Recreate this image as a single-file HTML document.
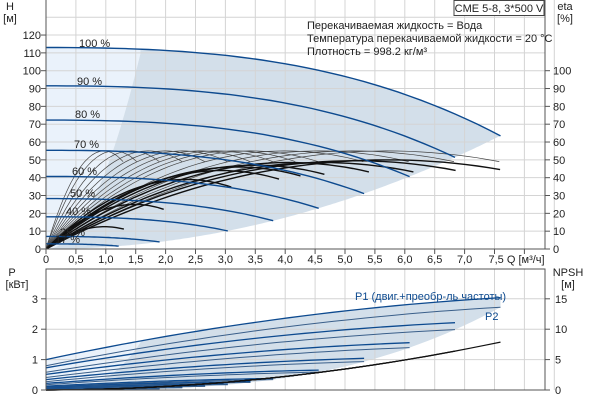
<!DOCTYPE html>
<html><head><meta charset="utf-8"><style>
html,body{margin:0;padding:0;background:#fff;width:600px;height:400px;overflow:hidden}
svg{display:block;font-family:"Liberation Sans",sans-serif;font-size:11px}
</style></head><body>
<svg id="s" width="600" height="400" xmlns="http://www.w3.org/2000/svg"></svg>
<script>
(function(){
var S=document.getElementById('s'),o='';
var X0=46,XS=59.8,i,q;
function X(q){return X0+q*XS}
function YH(h){return 249-h*1.783}
function YP(p){return 390-p*30.4}
function HF(q,s){return 113*s*s-0.25*q*q-0.08*q*q*q/s}
function path(pts,st,w,fill){var d='M'+pts.map(function(p){return p[0].toFixed(1)+','+p[1].toFixed(1)}).join('L');
 if(fill)return '<path d="'+d+'Z" fill="'+fill+'" stroke="none"/>';
 return '<path d="'+d+'" fill="none" stroke="'+st+'" stroke-width="'+w+'"/>';}
function T(x,y,t,a,fs,c){return '<text x="'+x+'" y="'+y+'" text-anchor="'+(a||'start')+'" font-size="'+(fs||11)+'" fill="'+(c||'#222')+'">'+t+'</text>';}
function P1(q,s){var u=q/s;return s*s*s*(1+0.42*u-0.02*u*u)}
function P2(q,s){var u=q/s;return s*s*s*(0.8+0.39*u-0.018*u*u)}
var light=[[X(0),YH(0)],[X(0),YH(113)]];for(i=0;i<=158;i++){q=i/100;light.push([X(q),YH(HF(q,1))]);}
for(i=158;i>=0;i--){q=i/100;light.push([X(q),YH(Math.min(44*q*q,HF(q,1)))]);}
o+=path(light,0,0,'#eaf2fb');
var dark=[];for(i=0;i<=158;i++){q=i/100;dark.push([X(q),YH(Math.min(44*q*q,HF(q,1)))]);}
for(i=158;i<=760;i+=3){q=i/100;dark.push([X(q),YH(HF(q,1))]);}
for(i=760;i>=0;i-=4){q=i/100;dark.push([X(q),YH(1.1*q*q)]);}
o+=path(dark,0,0,'#d3dfea');
var bd=[];for(i=0;i<=76;i++){q=i/10;bd.push([X(q),YP(P1(q,1))]);}
for(i=100;i>=12;i-=2){var s1=i/100;bd.push([X(7.6*s1),YP(P2(7.6*s1,s1))]);}
bd.push([X(0),YP(0)]);
o+=path(bd,0,0,'#d3dfea');
var bli=[[X(0),YP(0)],[X(0),YP(1)]];for(i=0;i<=16;i++){q=i/10;bli.push([X(q),YP(P1(q,1))]);}
for(i=100;i>=10;i-=5){var s2=i/100;bli.push([X(1.6*s2),YP(P1(1.6*s2,s2))]);}
bli.push([X(0.05),YP(0)]);
o+=path(bli,0,0,'#eaf2fb');
for(i=0;i<=17;i++){var x=X(i*0.5);o+='<line x1="'+x+'" y1="0" x2="'+x+'" y2="249" stroke="#d4d4d4"/>';o+='<line x1="'+x+'" y1="269" x2="'+x+'" y2="390" stroke="#d4d4d4"/>';}
for(i=0;i<=13;i++){var y=YH(i*10);if(y<0)continue;o+='<line x1="46" y1="'+y+'" x2="545" y2="'+y+'" stroke="#d4d4d4"/>';}
for(i=0;i<=3;i++){var y2=YP(i);o+='<line x1="46" y1="'+y2+'" x2="545" y2="'+y2+'" stroke="#d4d4d4"/>';}
var sp=[1,0.9,0.8,0.7,0.6,0.55,0.5,0.45,0.4,0.35,0.3,0.25,0.2,0.17];
sp.forEach(function(s){var qp=5.7*s,pts=[];for(var k=0;k<=40;k++){var x=1.33*k/40;pts.push([X(x*qp),YH(55*(2*x-x*x))]);}o+=path(pts,'#444',0.7);});
var th=[[12.5,0.98],[25,1.48],[39,2.33],[44,2.93],[48.5,4.06],[48.5,4.62],[49.5,5.15],[50,5.71],[47,3.5],[46,3.2]];
th.forEach(function(a){var pts=[];for(var k=0;k<=40;k++){var x=1.33*k/40;pts.push([X(x*a[1]),YH(a[0]*(2*x-x*x))]);}o+=path(pts,'#111',1.4);});
[1,0.9,0.8,0.7,0.6,0.5,0.4,0.25,0.16].forEach(function(s){var pts=[],qm=7.6*s;for(var k=0;k<=40;k++){var q=qm*k/40;pts.push([X(q),YH(HF(q,s))]);}o+=path(pts,'#0d4a8f',1.4);});
[1,0.9,0.8,0.7,0.6,0.5,0.45,0.4,0.35,0.3,0.25].forEach(function(s){var p1=[],p2=[],qm=7.6*s;for(var k=0;k<=30;k++){var q=qm*k/30;p1.push([X(q),YP(P1(q,s))]);p2.push([X(q),YP(P2(q,s))]);}o+=path(p1,'#0d4a8f',1.3);o+=path(p2,'#3a5f8a',1);});
[1,0.9,0.8,0.7,0.6,0.5,0.4].forEach(function(s){var pts=[],qm=7.6*s;for(var k=0;k<=30;k++){var q=qm*k/30;pts.push([X(q),YP(0.0266*q*q+0.005*q)]);}o+=path(pts,'#111',1.2);});
o+='<line x1="46" y1="0" x2="46" y2="249" stroke="#555"/><line x1="545" y1="0" x2="545" y2="249" stroke="#555"/><line x1="46" y1="249" x2="545" y2="249" stroke="#555"/>';
o+='<rect x="46" y="269" width="499" height="121" fill="none" stroke="#555"/>';
for(i=0;i<=12;i++){var y3=YH(i*10);o+='<line x1="41" y1="'+y3+'" x2="46" y2="'+y3+'" stroke="#555"/>'+T(41,y3+4,i*10,'end');}
for(i=0;i<=10;i++){var y4=YH(i*10);o+='<line x1="545" y1="'+y4+'" x2="550" y2="'+y4+'" stroke="#555"/>'+T(553,y4+4,i*10,'start');}
for(i=0;i<=15;i++){var x5=X(i*0.5);var lab=i==0?'0':(i*0.5).toFixed(1).replace('.',',');if(i==15)lab='7,5 Q [м³/ч]';
 o+='<line x1="'+x5+'" y1="249" x2="'+x5+'" y2="254" stroke="#555"/>'+T(i==15?x5-6:x5,263,lab,i==15?'start':'middle');}
o+='<line x1="'+X(8)+'" y1="249" x2="'+X(8)+'" y2="254" stroke="#555"/>';
for(i=0;i<=3;i++){var y6=YP(i);o+='<line x1="41" y1="'+y6+'" x2="46" y2="'+y6+'" stroke="#555"/>'+T(38,y6+4,i,'end');
 o+='<line x1="545" y1="'+y6+'" x2="550" y2="'+y6+'" stroke="#555"/>'+T(555,y6+4,i*5,'start');}
o+=T(10,10,'H','middle')+T(10,22,'[м]','middle')+T(565,10,'eta','middle')+T(565,22,'[%]','middle');
o+=T(12,276,'P','middle')+T(17,288,'[кВт]','middle')+T(568,276,'NPSH','middle')+T(568,288,'[м]','middle');
o+='<rect x="454" y="0.5" width="90" height="15" fill="#fff" stroke="#444"/>'+T(499,12,'CME 5-8, 3*500 V','middle');
o+=T(307,29,'Перекачиваемая жидкость = Вода')+T(307,42,'Температура перекачиваемой жидкости = 20 °C')+T(307,55,'Плотность = 998.2 кг/м³');
[['100 %',79,47],['90 %',77,85],['80 %',75,118],['70 %',74,148],['60 %',72,175],['50 %',70,197],['40 %',66,215],['25 %',60,236],['17 %',55,243]].forEach(function(a){o+=T(a[1],a[2],a[0]);});
o+=T(355,300,'P1 (двиг.+преобр-ль частоты)','start',11,'#0d4a8f')+T(485,320,'P2','start',11,'#0d4a8f');
S.innerHTML=o;
})();
</script>
</body></html>
